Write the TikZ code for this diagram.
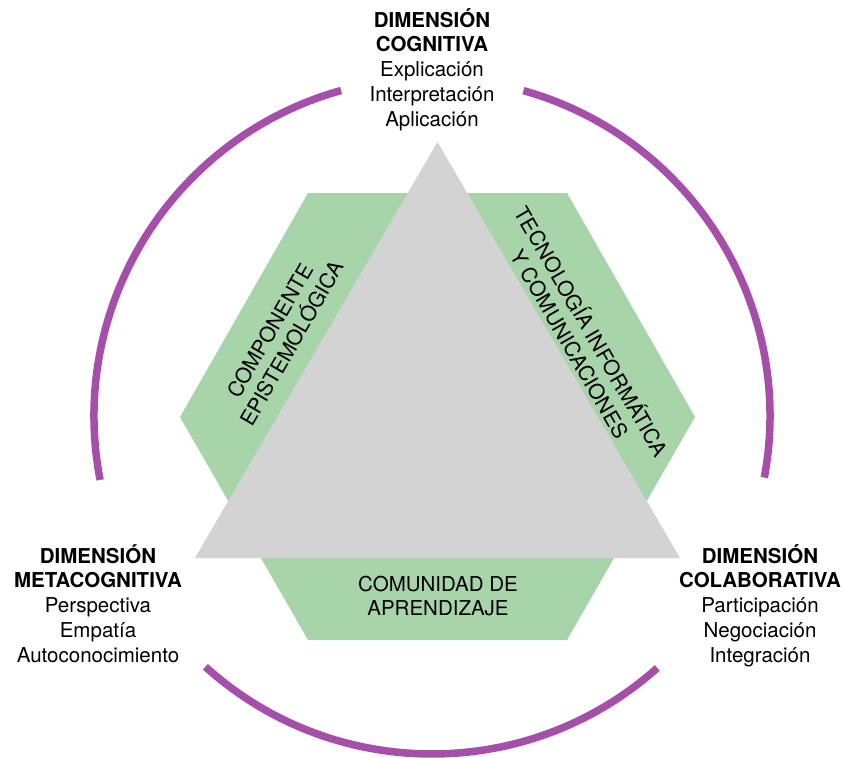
\documentclass[tikz,border=0pt]{standalone}
\usepackage{fontspec}
\setmainfont{TeX Gyre Heros}
\definecolor{arcpurple}{RGB}{166,79,170}
\definecolor{hexgreen}{RGB}{168,212,170}
\definecolor{trigray}{RGB}{211,211,211}
\tikzset{
  ring/.style={draw=arcpurple, line width=7.5pt},
  lbl/.style={font=\fontsize{20.5}{24.8}\selectfont, inner sep=0pt, anchor=base, text=black},
  rotlbl/.style={font=\fontsize{21}{25}\selectfont, inner sep=0pt, anchor=center, text=black, align=center},
}
\setlength{\tabcolsep}{0pt}
\begin{document}
\begin{tikzpicture}[x=1pt,y=1pt]
\useasboundingbox (0,0) rectangle (844,-758);
% hexagon
\fill[hexgreen] (308,-193) -- (567,-193) -- (695,-417) -- (567,-640) -- (308,-640) -- (180,-417) -- cycle;
% triangle
\fill[trigray] (437.5,-142) -- (680,-558) -- (195,-558) -- cycle;
% ring arcs
\coordinate (c) at (432,-416);
\draw[ring] (c) ++(74.3:338) arc[start angle=74.3, end angle=-10.5, radius=338];
\draw[ring] (c) ++(105.6:338) arc[start angle=105.6, end angle=190.9, radius=338];
\draw[ring] (c) ++(227.9:338) arc[start angle=227.9, end angle=311.8, radius=338];
% labels
\node[lbl] (cog) at (432,-27) {\begin{tabular}[t]{c}\textbf{DIMENSIÓN}\\\textbf{COGNITIVA}\\Explicación\\Interpretación\\Aplicación\end{tabular}};
\node[lbl] (meta) at (98,-563) {\begin{tabular}[t]{c}\textbf{DIMENSIÓN}\\\textbf{METACOGNITIVA}\\Perspectiva\\Empatía\\Autoconocimiento\end{tabular}};
\node[lbl] (cola) at (760,-563) {\begin{tabular}[t]{c}\textbf{DIMENSIÓN}\\\textbf{COLABORATIVA}\\Participación\\Negociación\\Integración\end{tabular}};
\node[lbl] (comu) at (438,-591) {\begin{tabular}[t]{c}COMUNIDAD DE\\APRENDIZAJE\end{tabular}};
\node[rotlbl, rotate=60] (epi) at (281,-337) {COMPONENTE\\EPISTEMOLÓGICA};
\node[rotlbl, rotate=-60] (tec) at (582,-337) {TECNOLOGÍA INFORMÁTICA\\Y COMUNICACIONES};
\end{tikzpicture}
\end{document}
